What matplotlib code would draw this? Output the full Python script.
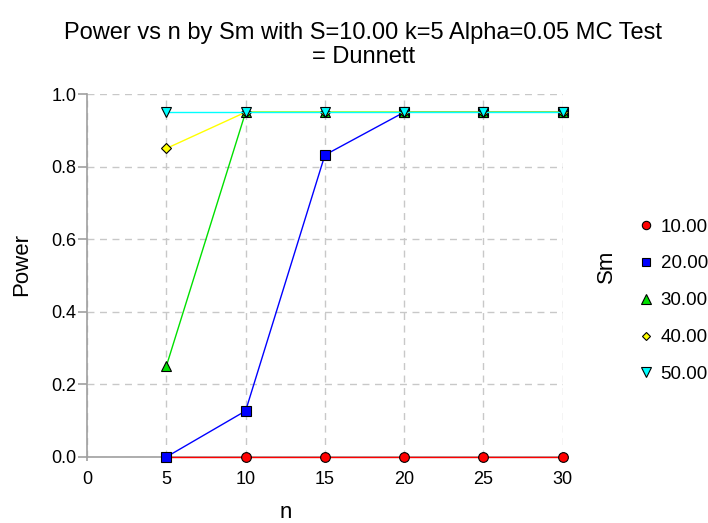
import matplotlib
matplotlib.use('Agg')
import matplotlib.pyplot as plt
from matplotlib.lines import Line2D

# Data
n = [5, 10, 15, 20, 25, 30]
sm_labels = ['10.00', '20.00', '30.00', '40.00', '50.00']
power_10 = [0.0, 0.0, 0.0, 0.0, 0.0, 0.0]
power_20 = [0.0, 0.127, 0.832, 0.95, 0.95, 0.95]
power_30 = [0.25, 0.95, 0.95, 0.95, 0.95, 0.95]
power_40 = [0.85, 0.95, 0.95, 0.95, 0.95, 0.95]
power_50 = [0.95, 0.95, 0.95, 0.95, 0.95, 0.95]

series = [power_10, power_20, power_30, power_40, power_50]
colors = ['#ff0000', '#0000ff', '#00e000', '#ffff00', '#00ffff']
markers = ['o', 's', '^', 'D', 'v']
msizes = [7, 7, 7.5, 5.5, 7.5]

plt.rcParams['font.family'] = ['Liberation Sans', 'DejaVu Sans']

fig = plt.figure(figsize=(7.08, 5.23), dpi=100)
ax = fig.add_axes([0.1229, 0.1262, 0.672, 0.694])

handles = []
for vals, c, m, ms, lab in zip(series, colors, markers, msizes, sm_labels):
    ax.plot(n, vals, color=c, lw=1, marker=m, markersize=ms,
            markerfacecolor=c, markeredgecolor='black', markeredgewidth=0.8,
            zorder=3, clip_on=False)
    handles.append(Line2D([], [], ls='none', marker=m, markersize=ms - 1,
                          markerfacecolor=c, markeredgecolor='black',
                          markeredgewidth=0.8, label=lab))

ax.set_xlim(0, 30)
ax.set_ylim(0, 1.0)
ax.set_xticks([0, 5, 10, 15, 20, 25, 30])
ax.set_yticks([0.0, 0.2, 0.4, 0.6, 0.8, 1.0])
ax.set_yticklabels(['0.0', '0.2', '0.4', '0.6', '0.8', '1.0'])
ax.grid(True, color='#c8c8c8', ls=(0, (5, 4)), lw=1)
ax.set_axisbelow(True)
for s in ['top', 'right']:
    ax.spines[s].set_visible(False)
for s in ['left', 'bottom']:
    ax.spines[s].set_color('#a0a0a0')
    ax.spines[s].set_linewidth(1.2)
ax.tick_params(axis='both', colors='#a0a0a0', labelcolor='black',
               labelsize=13, direction='out', width=1.2)
ax.tick_params(axis='y', length=6.5, pad=1)
ax.tick_params(axis='x', length=3, pad=7)

# axis labels and title placed in figure coordinates
fig.text(22 / 708, 1 - 265 / 523, 'Power', rotation=90, fontsize=16,
         ha='center', va='center')
fig.text(286 / 708, 0.0096, 'n', fontsize=16, ha='center', va='baseline')
fig.text(0.513, 1 - 63 / 523,
         'Power vs n by Sm with S=10.00 k=5 Alpha=0.05 MC Test\n= Dunnett',
         fontsize=17, ha='center', va='baseline', multialignment='center',
         linespacing=1.1)

fig.legend(handles=handles, loc='center left', bbox_to_anchor=(0.896, 0.425),
           frameon=False, fontsize=13.5, labelspacing=1.05, handletextpad=0.2,
           handlelength=1.2, borderaxespad=0, borderpad=0)
fig.text(0.857, 0.491, 'Sm', rotation=90, fontsize=16, ha='center', va='center')

fig.savefig('out.png', dpi=100)
